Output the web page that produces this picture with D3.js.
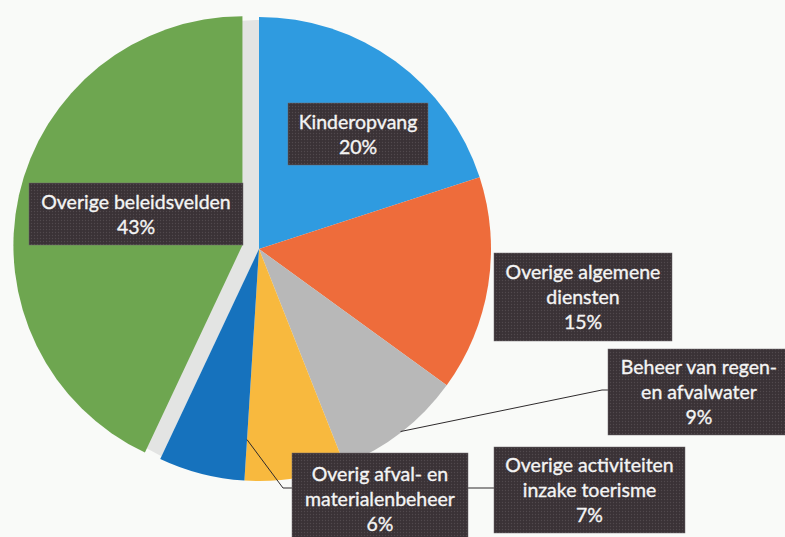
<!DOCTYPE html>
<html>
<head>
<meta charset="utf-8">
<script src="https://cdn.jsdelivr.net/npm/d3@7"></script>
<style>
  html, body { margin: 0; padding: 0; background: #f9faf8; }
  svg { display: block; }
  .lbl text { font-family: Lato, "Open Sans", sans-serif; font-size: 19.5px; fill: #f4f4f4; stroke: #f4f4f4; stroke-width: 0.35px; }
</style>
</head>
<body>
<div id="chart"></div>
<script>
// slice data, clockwise from 12 o'clock
var labels = [
    ["Kinderopvang"],
    ["Overige algemene", "diensten"],
    ["Beheer van regen-", "en afvalwater"],
    ["Overige activiteiten", "inzake toerisme"],
    ["Overig afval- en", "materialenbeheer"],
    ["Overige beleidsvelden"]
];
var values = [20, 15, 9, 7, 6, 43];
var colors = ["#2f9be0", "#ee6c3b", "#b8b8b8", "#f8b93e", "#1672bd", "#6ea650"];

// label box layout (x, y, w, h)
var boxes = [
    [288, 103, 140, 62],
    [494, 253, 178, 88],
    [608, 349, 182, 86],
    [494, 447, 191, 86],
    [292, 453, 176, 92],
    [29, 183, 214, 62]
];

var width = 785, height = 537;
var cx = 259, cy = 249, radius = 232;
var explodeIdx = 5, explodeDist = 17;

var svg = d3.select("#chart").append("svg")
    .attr("width", width)
    .attr("height", height);

// halftone texture for label boxes (scanned print look)
var defs = svg.append("defs");
var pat = defs.append("pattern")
    .attr("id", "dots")
    .attr("width", 3).attr("height", 3)
    .attr("patternUnits", "userSpaceOnUse");
pat.append("rect").attr("width", 3).attr("height", 3).attr("fill", "#3a3236");
pat.append("circle").attr("cx", 1.5).attr("cy", 1.5).attr("r", 0.7).attr("fill", "#51494d");

var data = values.map(function(v, i) {
    return {label: labels[i], value: v, color: colors[i], box: boxes[i]};
});

var pie = d3.pie()
    .sort(null)
    .value(function(d) { return d.value; });

var arcs = pie(data);

var arc = d3.arc()
    .innerRadius(0)
    .outerRadius(function(d) { return d.index === explodeIdx ? radius - 3 : radius; });

var g = svg.append("g")
    .attr("transform", "translate(" + cx + "," + cy + ")");

// light shadow where the exploded slice was
g.append("path")
    .attr("d", arc(arcs[explodeIdx]))
    .attr("fill", "#e3e4e3");

g.selectAll("path.slice")
    .data(arcs)
    .enter()
    .append("path")
    .attr("class", "slice")
    .attr("d", arc)
    .attr("fill", function(d) { return d.data.color; })
    .attr("transform", function(d, i) {
        if (i !== explodeIdx) return null;
        var mid = (d.startAngle + d.endAngle) / 2;
        return "translate(" + (Math.sin(mid) * explodeDist) + "," + (-Math.cos(mid) * explodeDist) + ")";
    });

// leader lines
var line = d3.line();
function pointAt(angle, r) {
    return [cx + Math.sin(angle) * r, cy - Math.cos(angle) * r];
}

var beheer = arcs[2];
var p0 = pointAt((beheer.startAngle + beheer.endAngle) / 2, radius - 1);
svg.append("path")
    .attr("d", line([p0, [602, 390], [boxes[2][0], 390]]))
    .attr("fill", "none")
    .attr("stroke", "#2e2a2c")
    .attr("stroke-width", 1);

var toer = arcs[3];
var p1 = pointAt(toer.endAngle, 191);
svg.append("path")
    .attr("d", line([p1, [283, 488], [boxes[3][0], 488]]))
    .attr("fill", "none")
    .attr("stroke", "#2e2a2c")
    .attr("stroke-width", 1);

// data labels
var lh = 25;
var lbl = svg.selectAll("g.lbl")
    .data(arcs)
    .enter()
    .append("g")
    .attr("class", "lbl");

lbl.append("rect")
    .attr("x", function(d) { return d.data.box[0]; })
    .attr("y", function(d) { return d.data.box[1]; })
    .attr("width", function(d) { return d.data.box[2]; })
    .attr("height", function(d) { return d.data.box[3]; })
    .attr("fill", "url(#dots)")
    .attr("stroke", "#6f6a6c")
    .attr("stroke-width", 0.5);

lbl.each(function(d) {
    var lines = d.data.label.concat([d.data.value + "%"]);
    var b = d.data.box;
    var mx = b[0] + b[2] / 2;
    var my = b[1] + b[3] / 2;
    var first = my - (lines.length - 1) * lh / 2 + 7;
    d3.select(this).selectAll("text")
        .data(lines)
        .enter()
        .append("text")
        .attr("x", mx)
        .attr("y", function(t, i) { return first + i * lh; })
        .attr("text-anchor", "middle")
        .text(function(t) { return t; });
});
</script>
</body>
</html>
